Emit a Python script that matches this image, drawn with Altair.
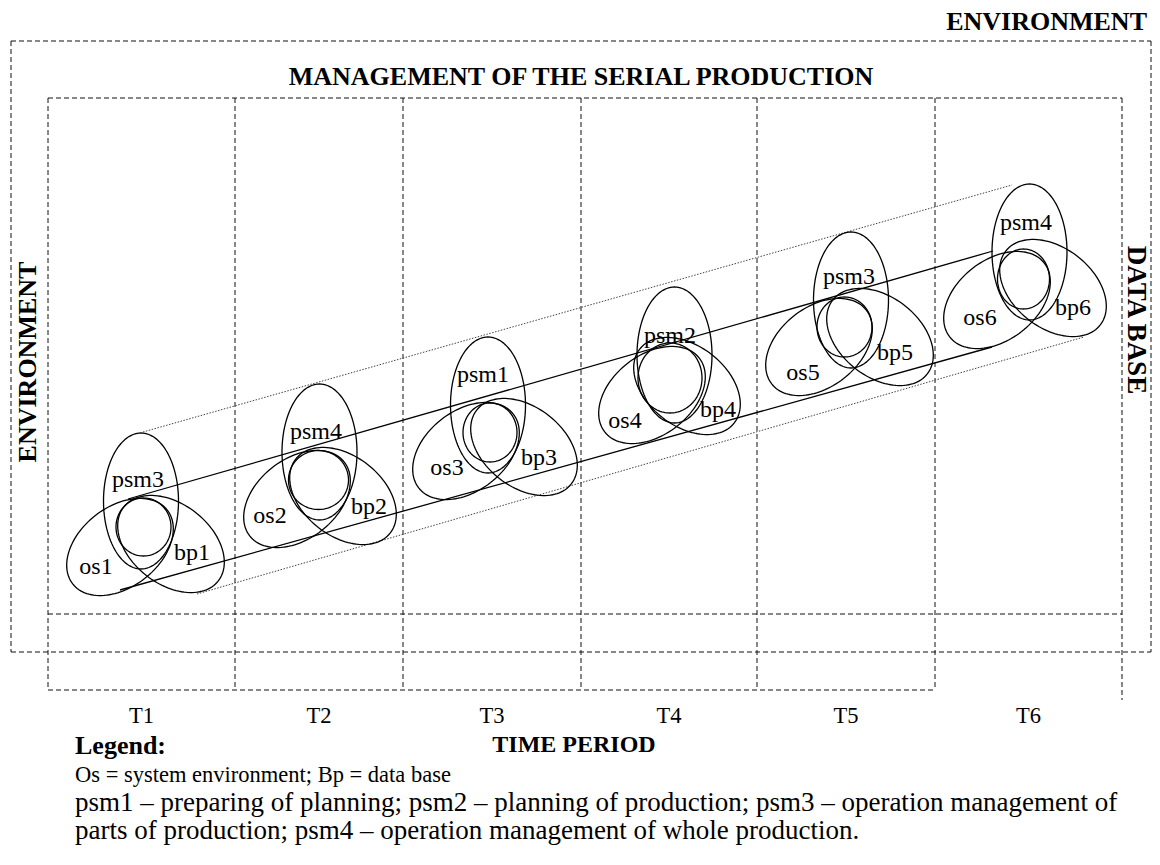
import altair as alt
import pandas as pd

FONT = "Liberation Serif"

# ---------------- data ----------------
periods = ["T1", "T2", "T3", "T4", "T5", "T6"]
col_edges = [48, 235, 403, 581, 757, 935, 1122]

psm_names = ["psm3", "psm4", "psm1", "psm2", "psm3", "psm4"]
os_names = ["os1", "os2", "os3", "os4", "os5", "os6"]
bp_names = ["bp1", "bp2", "bp3", "bp4", "bp5", "bp6"]

# ellipse centres per time period
psm_cx = [141, 319.5, 488, 674.5, 851, 1029.5]
psm_cy = [501, 452, 405, 355, 300, 252]
os_cx = [120, 297, 466, 652, 819, 997]
os_cy = [547, 499, 451, 395, 347, 300]
bp_cx = [171, 343, 524, 687, 880, 1053]
bp_cy = [544, 496, 447, 386, 337, 288]
core_cx = [143.5, 318.5, 490, 670, 844.5, 1023.5]
core_cy = [527, 480, 432.5, 378, 327, 279]
core_rx = [27.5, 30, 27, 32, 27.5, 26]
core_ry = [29, 29.5, 29.5, 35, 30, 30]

# label positions
psm_lx = [138, 316, 483, 670, 849, 1026]
psm_ly = [480, 432, 375, 336, 277, 223]
os_lx = [96, 270, 447, 625, 803, 980]
os_ly = [567, 516, 468, 421, 373, 318]
bp_lx = [192, 369, 539, 718, 895, 1073]
bp_ly = [553, 507, 458, 410, 353, 308]

# connecting lines (start / end points)
solid_x = [128, 120]
solid_y = [499, 590]
solid_x2 = [993, 992]
solid_y2 = [251, 347]
dotted_x = [143, 197]
dotted_y = [432, 594]
dotted_x2 = [1012, 1084]
dotted_y2 = [185, 337]

legend_lines = [
    "Os = system environment; Bp = data base",
    "psm1 \u2013 preparing of planning; psm2 \u2013 planning of production; psm3 \u2013 operation management of",
    "parts of production; psm4 \u2013 operation management of whole production.",
]
legend_y = [775, 803, 831]
legend_size = [22.5, 27, 27]

# ---------------- tables ----------------
rows = []
for i in range(6):
    rows.append(dict(id=f"psm{i}", cx=psm_cx[i], cy=psm_cy[i], a=37.5, b=68, r=0))
    rows.append(dict(id=f"os{i}", cx=os_cx[i], cy=os_cy[i], a=60, b=40, r=-38))
    rows.append(dict(id=f"bp{i}", cx=bp_cx[i], cy=bp_cy[i], a=60, b=40, r=38))
    rows.append(dict(id=f"core{i}", cx=core_cx[i], cy=core_cy[i], a=core_rx[i], b=core_ry[i], r=0))
ell_df = pd.DataFrame(rows)

# frame segments
RIGHT = 1151
seg = []
# outer environment box
seg += [(11, 41, RIGHT, 41), (11, 652, RIGHT, 652), (11, 41, 11, 652), (RIGHT, 41, RIGHT, 652)]
# management box
seg += [(col_edges[0], 98, col_edges[-1], 98), (col_edges[0], 614, col_edges[-1], 614),
        (col_edges[0], 690, col_edges[-2], 690)]
for e in col_edges[:-1]:
    seg.append((e, 98, e, 690))
seg.append((col_edges[-1], 98, col_edges[-1], 700))
dash_df = pd.DataFrame(seg, columns=["x", "y", "x2", "y2"])

solid_df = pd.DataFrame(dict(x=solid_x, y=solid_y, x2=solid_x2, y2=solid_y2))
dotted_df = pd.DataFrame(dict(x=dotted_x, y=dotted_y, x2=dotted_x2, y2=dotted_y2))

lab_df = pd.DataFrame(dict(
    label=psm_names + os_names + bp_names,
    x=psm_lx + os_lx + bp_lx,
    y=psm_ly + os_ly + bp_ly,
))
t_df = pd.DataFrame(dict(label=periods,
                         x=[(col_edges[i] + col_edges[i + 1]) / 2 for i in range(6)],
                         y=[716] * 6))
leg_df = pd.DataFrame(dict(label=legend_lines, x=[75] * 3, y=legend_y, s=legend_size))

X = lambda f="x": alt.X(f"{f}:Q", scale=alt.Scale(domain=[8, 1152], nice=False, zero=False), axis=None)
Y = lambda f="y": alt.Y(f"{f}:Q", scale=alt.Scale(domain=[8, 857], reverse=True, nice=False, zero=False), axis=None)

dashed = alt.Chart(dash_df).mark_rule(color="#111", strokeWidth=1, strokeDash=[5, 3]).encode(
    x=X(), y=Y(), x2="x2:Q", y2="y2:Q")
solid = alt.Chart(solid_df).mark_rule(color="#000", strokeWidth=1.3).encode(
    x=X(), y=Y(), x2="x2:Q", y2="y2:Q")
dotted = alt.Chart(dotted_df).mark_rule(color="#444", strokeWidth=1, strokeDash=[1.5, 1.5]).encode(
    x=X(), y=Y(), x2="x2:Q", y2="y2:Q")

ellipses = alt.Chart(ell_df).transform_calculate(
    t="sequence(0, 363, 3)"
).transform_flatten(["t"]).transform_calculate(
    px="datum.cx + datum.a*cos(datum.t*PI/180)*cos(datum.r*PI/180) - datum.b*sin(datum.t*PI/180)*sin(datum.r*PI/180)",
    py="datum.cy + datum.a*cos(datum.t*PI/180)*sin(datum.r*PI/180) + datum.b*sin(datum.t*PI/180)*cos(datum.r*PI/180)",
).mark_line(color="#000", strokeWidth=1.3).encode(
    x=X("px"), y=Y("py"), detail="id:N", order=alt.Order("t:Q"))

labels = alt.Chart(lab_df).mark_text(font=FONT, fontSize=24, color="#000", baseline="middle").encode(
    x=X(), y=Y(), text="label:N")
tlabels = alt.Chart(t_df).mark_text(font=FONT, fontSize=22.5, color="#000", baseline="middle").encode(
    x=X(), y=Y(), text="label:N")
legend = alt.Chart(leg_df).mark_text(font=FONT, color="#000", baseline="middle", align="left").encode(
    x=X(), y=Y(), text="label:N",
    size=alt.Size("s:Q", scale=None, legend=None))

def title(txt, x, y, size=26, angle=0, align="center"):
    d = pd.DataFrame(dict(label=[txt], x=[x], y=[y]))
    return alt.Chart(d).mark_text(font=FONT, fontSize=size, fontWeight="bold", color="#000",
                                  baseline="middle", align=align, angle=angle).encode(
        x=X(), y=Y(), text="label:N")

titles = [
    title("ENVIRONMENT", 1147, 22, align="right"),
    title("MANAGEMENT OF THE SERIAL PRODUCTION", 581, 77),
    title("ENVIRONMENT", 28, 362, angle=270),
    title("DATA BASE", 1136, 320, size=27, angle=90),
    title("TIME PERIOD", 574, 745, size=24),
    title("Legend:", 75, 746, size=26, align="left"),
]

chart = alt.layer(dashed, dotted, solid, ellipses, labels, tlabels, legend, *titles).properties(
    width=1144, height=849, padding=0, autosize=alt.AutoSizeParams(type="none"),
    background="white",
).configure_view(strokeWidth=0)

chart.save("out.html", embed_options={"renderer": "svg", "actions": False})
